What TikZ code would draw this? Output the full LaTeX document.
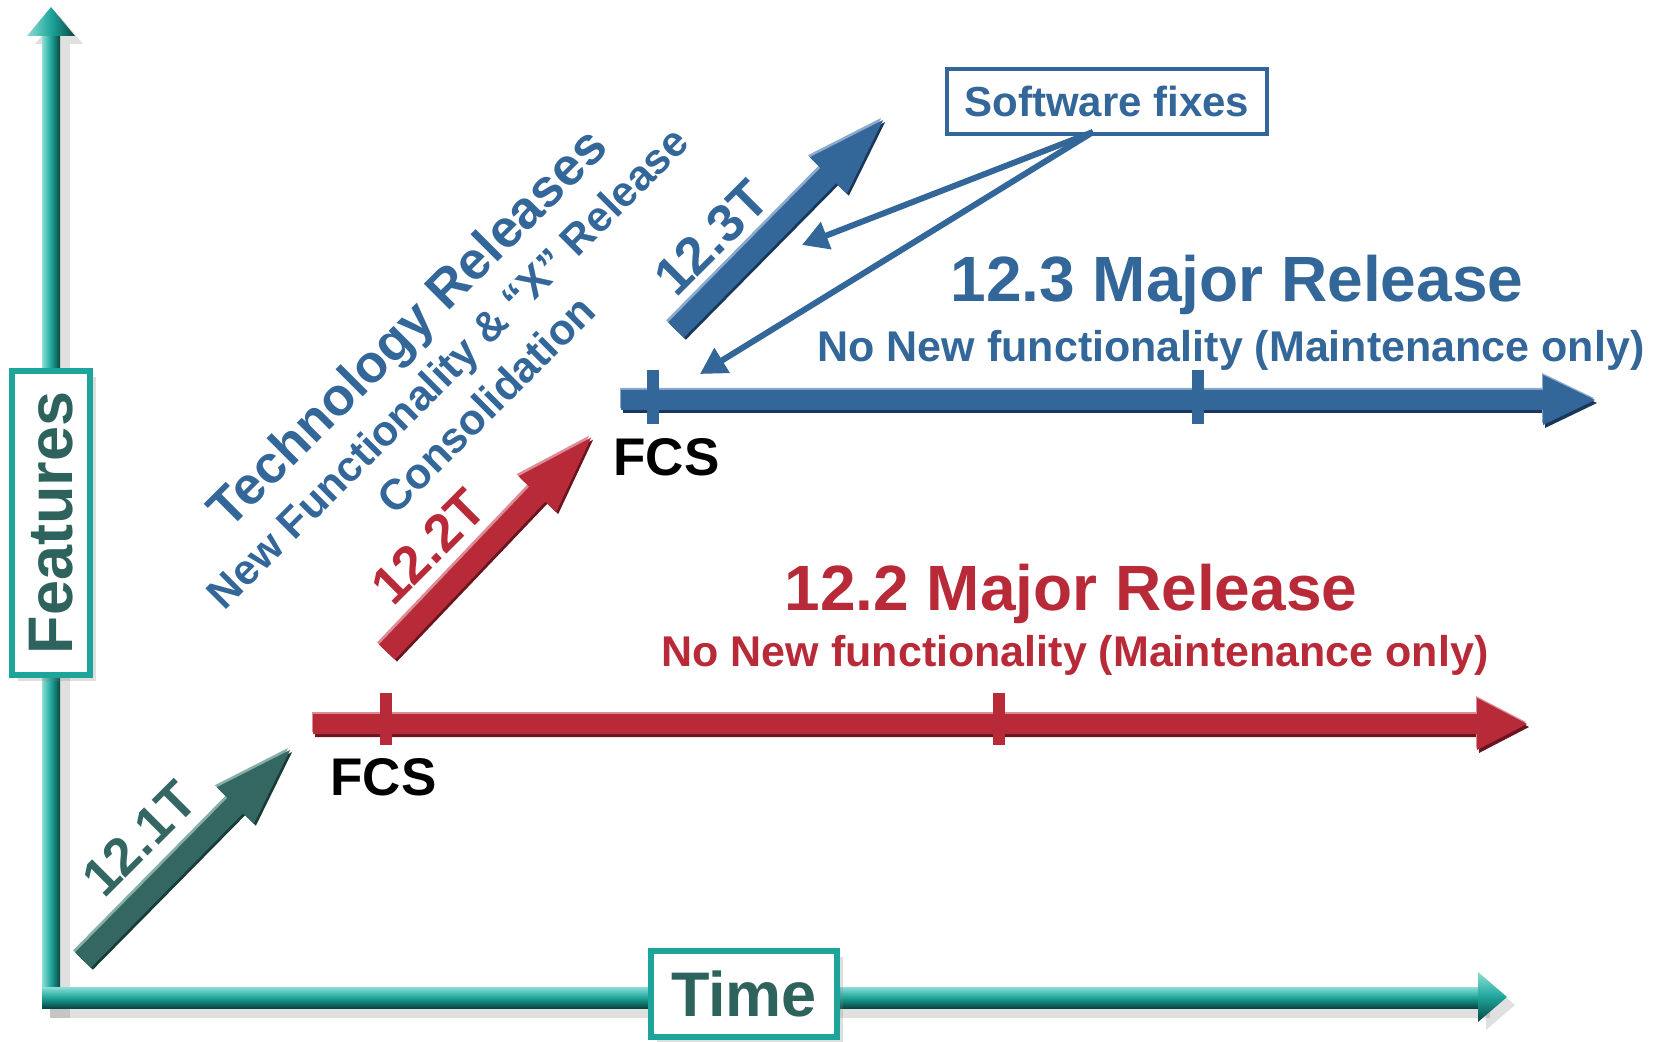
\documentclass[tikz,border=0pt]{standalone}
\usepackage{fontspec}
\setmainfont{Liberation Sans}
\usetikzlibrary{arrows.meta,calc,shadows}
\definecolor{blueC}{RGB}{51,102,153}
\definecolor{blueL}{RGB}{140,170,205}
\definecolor{blueD}{RGB}{25,55,90}
\definecolor{redC}{RGB}{185,42,56}
\definecolor{redL}{RGB}{220,140,150}
\definecolor{redD}{RGB}{105,20,30}
\definecolor{tarC}{RGB}{52,102,98}
\definecolor{tarL}{RGB}{135,175,170}
\definecolor{tarD}{RGB}{25,60,58}
\definecolor{axC}{RGB}{30,165,155}
\definecolor{axL}{RGB}{140,222,214}
\definecolor{axD}{RGB}{8,70,65}
\definecolor{featT}{RGB}{45,98,93}
\newcommand\myfs[1]{\fontsize{#1pt}{#1pt}\selectfont\bfseries}
\newcommand\fatshape[5]{%
  \begin{scope}[shift={(#1,#2)},rotate=#3]
    \fill[#5] (0,-11) -- ({#4-78},-11) -- ({#4-78},-26) -- (#4,0) -- ({#4-78},26) -- ({#4-78},11) -- (0,11) -- cycle;
  \end{scope}}
\newcommand\fatarr[7]{%
  \fatshape{#1-2}{#2-2}{#3}{#4}{#6}%
  \fatshape{#1+2}{#2+2}{#3}{#4}{#7}%
  \fatshape{#1}{#2}{#3}{#4}{#5}}
\tikzset{
  axbox/.style={draw=axC, line width=3pt, fill=white, text=featT, inner sep=0pt,
    drop shadow={opacity=0.25, shadow xshift=3pt, shadow yshift=-3pt}},
  fixarrow/.style={draw=blueC, line width=3pt, -{Triangle[length=13pt,width=14pt]}},
  diaglbl/.style={anchor=base, rotate=45, inner sep=0pt}
}
\begin{document}
\begin{tikzpicture}[x=0.5pt,y=-0.5pt]
\useasboundingbox (0,0) rectangle (1658,1042);
\coordinate (ytip) at (51,7);
\coordinate (xtip) at (1507,997);
\coordinate (orig) at (51,997);
% axis shadows
\fill[black,opacity=0.12] (50,44) rectangle (70,1018);
\fill[black,opacity=0.12] (50,995) rectangle (1490,1018);
\fill[black,opacity=0.12] (35,44) -- (59,15) -- (83,44) -- cycle;
\fill[black,opacity=0.12] (1486,980) -- (1515,1005) -- (1486,1030) -- cycle;
% axes
\shade[left color=axL, right color=axD, middle color=axC] (42,34) rectangle (60,1008);
\shade[top color=axL, bottom color=axD, middle color=axC] (42,987) rectangle (1480,1008);
\shade[left color=axL, right color=axD, middle color=axC] (27,36) -- (ytip) -- (75,36) -- cycle;
\shade[top color=axL, bottom color=axD, middle color=axC] (1478,972) -- (xtip) -- (1478,1022) -- cycle;
% axis boxes
\node[axbox, rotate=90, minimum width=152pt, minimum height=39pt, font={\myfs{31.5}}] (feat) at (51,523) {Features};
\node[axbox, minimum width=93pt, minimum height=43pt, font={\myfs{31.5}}] (time) at (744,994) {Time};
% red release line
\begin{scope}[shift={(2,3)}]
\fill[redD] (313,714) -- (1477,714) -- (1477,698) -- (1527,724) -- (1477,750) -- (1477,734) -- (313,734) -- cycle;
\end{scope}
\begin{scope}[shift={(-1,-2)}]
\fill[redL] (313,714) -- (1477,714) -- (1477,698) -- (1527,724) -- (1477,750) -- (1477,734) -- (313,734) -- cycle;
\end{scope}
\fill[redC] (313,714) -- (1477,714) -- (1477,698) -- (1527,724) -- (1477,750) -- (1477,734) -- (313,734) -- cycle;
\fill[redC] (380,693) rectangle (392,745);
\fill[redC] (993,693) rectangle (1005,745);
% blue release line
\begin{scope}[shift={(2,3)}]
\fill[blueD] (621,390) -- (1543,390) -- (1543,375) -- (1595,400) -- (1543,425) -- (1543,410) -- (621,410) -- cycle;
\end{scope}
\begin{scope}[shift={(-1,-2)}]
\fill[blueL] (621,390) -- (1543,390) -- (1543,375) -- (1595,400) -- (1543,425) -- (1543,410) -- (621,410) -- cycle;
\end{scope}
\fill[blueC] (621,390) -- (1543,390) -- (1543,375) -- (1595,400) -- (1543,425) -- (1543,410) -- (621,410) -- cycle;
\fill[blueC] (647,370) rectangle (659,424);
\fill[blueC] (1192,370) rectangle (1204,424);
% technology release arrows
\fatarr{83}{960}{45.4}{295}{tarC}{tarL}{tarD}
\fatarr{387}{652}{46.4}{296}{redC}{redL}{redD}
\fatarr{676}{330}{45.4}{295}{blueC}{blueL}{blueD}
% labels on arrows
\node[diaglbl, text=tarC, font={\myfs{26.5}}] (l121) at (152,852) {12.1T};
\node[diaglbl, text=redC, font={\myfs{26.5}}] (l122) at (441,560) {12.2T};
\node[diaglbl, text=blueC, font={\myfs{26.5}}] (l123) at (724,251) {12.3T};
% technology releases text
\node[diaglbl, text=blueC, font={\myfs{26.5}}] (tech1) at (420,340) {Technology Releases};
\node[diaglbl, text=blueC, font={\myfs{21.2}}] (tech2) at (458,378) {New Functionality \& “X” Release};
\node[diaglbl, text=blueC, font={\myfs{21.5}}] (tech3) at (497,415) {Consolidation};
% FCS labels
\node[anchor=base west, inner sep=0pt, font={\myfs{26.5}}] (fcs1) at (330,795) {FCS};
\node[anchor=base west, inner sep=0pt, font={\myfs{26.5}}] (fcs2) at (613,476) {FCS};
% major release texts
\node[anchor=base, inner sep=0pt, text=redC, font={\myfs{32}}] (maj2) at (1071,610) {12.2 Major Release};
\node[anchor=base, inner sep=0pt, text=redC, font={\myfs{21.5}}] (nf2) at (1075,666) {No New functionality (Maintenance only)};
\node[anchor=base, inner sep=0pt, text=blueC, font={\myfs{32}}] (maj3) at (1237,302) {12.3 Major Release};
\node[anchor=base, inner sep=0pt, text=blueC, font={\myfs{21.5}}] (nf3) at (1231,362) {No New functionality (Maintenance only)};
% software fixes
\node[draw=blueC, line width=2pt, fill=white, minimum width=160pt, minimum height=32.5pt, inner sep=0pt, text=blueC, font={\myfs{21}}] (sf) at (1107,101.5) {Software fixes};
\coordinate (fixA) at (802,245);
\coordinate (fixB) at (700,374);
\draw[fixarrow] ($(sf.south)+(-14,-4)$) -- (fixA);
\draw[fixarrow] ($(sf.south)+(-14,-4)$) -- (fixB);
\end{tikzpicture}
\end{document}
